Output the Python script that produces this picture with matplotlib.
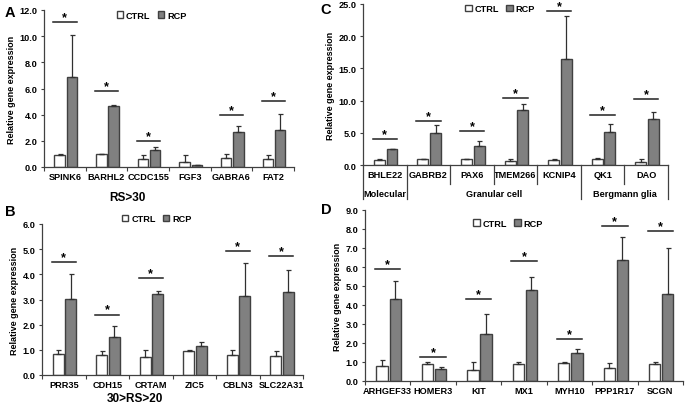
import matplotlib
matplotlib.use("Agg")
import matplotlib.pyplot as plt
import matplotlib.patches as patches
import matplotlib.transforms as mtransforms
import numpy as np

plt.rcParams['font.family'] = ['Liberation Sans', 'DejaVu Sans']
plt.rcParams['font.weight'] = 'bold'

# A: RS>30
a_genes = ["SPINK6", "BARHL2", "CCDC155", "FGF3", "GABRA6", "FAT2"]
a_ctrl = [0.95, 0.98, 0.60, 0.35, 0.70, 0.60]
a_ctrl_err = [0.05, 0.03, 0.35, 0.55, 0.30, 0.35]
a_rcp = [6.85, 4.65, 1.30, 0.12, 2.65, 2.80]
a_rcp_err = [3.25, 0.10, 0.20, 0.03, 0.45, 1.25]
a_sig = [11.1, 5.8, 2.0, None, 3.95, 5.05]

# B: 30>RS>20
b_genes = ["PRR35", "CDH15", "CRTAM", "ZIC5", "CBLN3", "SLC22A31"]
b_ctrl = [0.82, 0.80, 0.70, 0.97, 0.80, 0.75]
b_ctrl_err = [0.18, 0.17, 0.30, 0.03, 0.20, 0.22]
b_rcp = [3.02, 1.50, 3.23, 1.15, 3.12, 3.30]
b_rcp_err = [1.01, 0.43, 0.09, 0.18, 1.33, 0.87]
b_sig = [4.48, 2.40, 3.84, None, 4.94, 4.74]

# C: cell type markers
c_genes = ["BHLE22", "GABRB2", "PAX6", "TMEM266", "KCNIP4", "QK1", "DAO"]
c_groups = [("Molecular", 1), ("Granular cell", 4), ("Bergmann glia", 2)]
c_ctrl = [0.80, 0.90, 0.90, 0.60, 0.85, 0.90, 0.50]
c_ctrl_err = [0.20, 0.10, 0.10, 0.40, 0.15, 0.15, 0.50]
c_rcp = [2.45, 5.00, 3.00, 8.50, 16.4, 5.20, 7.10]
c_rcp_err = [0.05, 1.20, 0.80, 0.90, 6.80, 1.10, 1.20]
c_sig = [4.0, 6.8, 5.3, 10.4, 23.9, 7.7, 10.25]

# D
d_genes = ["ARHGEF33", "HOMER3", "KIT", "MX1", "MYH10", "PPP1R17", "SCGN"]
d_ctrl = [0.80, 0.92, 0.60, 0.88, 0.95, 0.68, 0.90]
d_ctrl_err = [0.30, 0.08, 0.40, 0.12, 0.03, 0.27, 0.10]
d_rcp = [4.30, 0.62, 2.50, 4.80, 1.47, 6.35, 4.58]
d_rcp_err = [0.95, 0.10, 1.05, 0.70, 0.21, 1.25, 2.42]
d_sig = [5.9, 1.28, 4.3, 6.3, 2.2, 8.14, 7.88]

W, H = 685, 406
fig = plt.figure(figsize=(W / 100, H / 100), dpi=100)

def px_axes(left, right, top, bottom):
    return fig.add_axes([left / W, 1 - bottom / H, (right - left) / W, (bottom - top) / H])

EDGE = '#404040'
GRAY = '#808080'
FS = 6.6

def panel(ax, genes, ctrl, ctrl_err, rcp, rcp_err, sig, ymax, ystep, leg_x=0.44, leg_y=1.0, show_ticks=True):
    x = np.arange(len(genes)) + 0.5
    bw = 0.25
    ekw = dict(ecolor='#303030', elinewidth=0.9, capsize=1.8, capthick=0.9)
    ax.bar(x - 0.125, ctrl, bw, yerr=[np.zeros(len(ctrl)), ctrl_err], color='white',
           edgecolor=EDGE, lw=1.0, error_kw=ekw)
    ax.bar(x + 0.165, rcp, bw, yerr=[np.zeros(len(rcp)), rcp_err], color=GRAY,
           edgecolor=EDGE, lw=1.0, error_kw=ekw)
    for xi, s in zip(x, sig):
        if s is None:
            continue
        ax.plot([xi - 0.28, xi + 0.28], [s, s], color='#202020', lw=1.1, clip_on=False)
        ax.annotate('*', (xi, s), xytext=(0, 3.6), textcoords='offset points',
                    ha='center', va='center', fontsize=9, fontweight='bold', annotation_clip=False)
    ax.set_xlim(0, len(genes))
    ax.set_ylim(0, ymax)
    yt = np.arange(0, ymax + 0.01, ystep)
    ax.set_yticks(yt)
    ax.set_yticklabels([f"{v:.1f}" for v in yt], fontsize=FS, fontweight='bold')
    ax.set_xticks(np.arange(len(genes) + 1))
    ax.set_xticklabels([])
    ax.set_xticks(x, minor=True)
    ax.set_xticklabels(genes, minor=True, fontsize=FS, fontweight='bold')
    ax.tick_params(axis='x', which='minor', length=0, pad=3.5)
    ax.tick_params(axis='x', which='major', length=3 if show_ticks else 0, width=0.8, color=EDGE)
    ax.tick_params(axis='y', length=2.5, width=0.8, color=EDGE, pad=2)
    for sp in ['top', 'right']:
        ax.spines[sp].set_visible(False)
    for sp in ['left', 'bottom']:
        ax.spines[sp].set_color(EDGE)
        ax.spines[sp].set_linewidth(0.9)
    ax.set_ylabel("Relative gene expression", fontsize=6.5, fontweight='bold', labelpad=3)
    handles = [patches.Patch(facecolor='white', edgecolor=EDGE, label='CTRL'),
               patches.Patch(facecolor=GRAY, edgecolor=EDGE, label='RCP')]
    ax.legend(handles=handles, loc='upper center', bbox_to_anchor=(leg_x, leg_y), ncol=2,
              frameon=False, handlelength=0.7, handleheight=0.7,
              handletextpad=0.3, columnspacing=0.8, borderaxespad=0,
              prop=dict(weight='bold', size=FS))

axA = px_axes(44, 294, 11, 168)
panel(axA, a_genes, a_ctrl, a_ctrl_err, a_rcp, a_rcp_err, a_sig, 12, 2, leg_x=0.43, leg_y=1.02)
axB = px_axes(42, 303, 225, 376)
panel(axB, b_genes, b_ctrl, b_ctrl_err, b_rcp, b_rcp_err, b_sig, 6, 1, leg_x=0.44, leg_y=1.09)
axC = px_axes(363, 668, 5, 166)
panel(axC, c_genes, c_ctrl, c_ctrl_err, c_rcp, c_rcp_err, c_sig, 25, 5, leg_x=0.45, leg_y=1.02,
      show_ticks=False)
axD = px_axes(365, 683, 211, 382)
panel(axD, d_genes, d_ctrl, d_ctrl_err, d_rcp, d_rcp_err, d_sig, 9, 1, leg_x=0.45, leg_y=0.97)

# multi-level category table under panel C
trans = mtransforms.blended_transform_factory(axC.transData, axC.transAxes)
group_edges = np.cumsum([0] + [n for _, n in c_groups])
for b in range(len(c_genes) + 1):
    low = -0.21 if b in group_edges else -0.12
    axC.plot([b, b], [0, low], transform=trans, color=EDGE, lw=0.9, clip_on=False)
for (name, n), start in zip(c_groups, group_edges[:-1]):
    axC.text(start + n / 2, -0.18, name, transform=trans, ha='center', va='center',
             fontsize=FS, fontweight='bold')

fig.text(127 / W, 1 - 198 / H, "RS>30", ha='center', va='center', fontsize=8.5, fontweight='bold')
fig.text(135 / W, 1 - 399 / H, "30>RS>20", ha='center', va='center', fontsize=8.5, fontweight='bold')
for lab, xx, yy in [("A", 10, 13), ("B", 10, 212), ("C", 326, 10), ("D", 326, 210)]:
    fig.text(xx / W, 1 - yy / H, lab, ha='center', va='center', fontsize=10.5, fontweight='bold')

fig.savefig("out.png", dpi=100)
